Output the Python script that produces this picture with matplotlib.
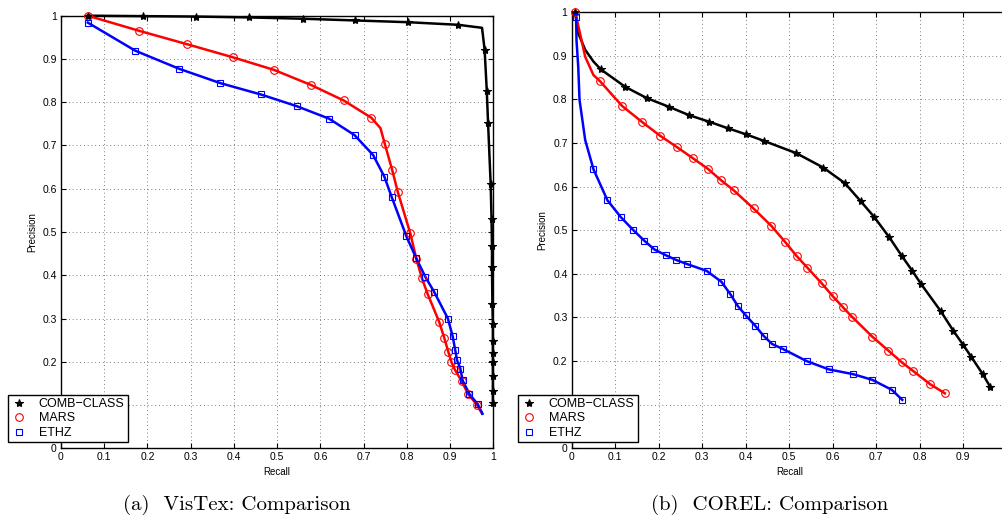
import matplotlib
matplotlib.use('Agg')
import matplotlib.pyplot as plt
from matplotlib.ticker import FormatStrFormatter

# ---- VisTex (left) ----
vis_comb_line_x = [0.062, 0.189, 0.312, 0.436, 0.559, 0.681, 0.802, 0.918, 0.974, 0.980, 0.985,
                   0.988, 0.994, 0.996, 0.997, 0.997, 0.998, 0.999, 0.999, 0.999, 0.999, 0.999, 0.999, 0.999]
vis_comb_line_y = [1.0, 0.999, 0.998, 0.996, 0.993, 0.989, 0.985, 0.979, 0.972, 0.921, 0.826,
                   0.751, 0.610, 0.530, 0.467, 0.419, 0.333, 0.287, 0.248, 0.220, 0.199, 0.167, 0.133, 0.105]
vis_comb_mk_x = [0.062, 0.189, 0.312, 0.436, 0.559, 0.681, 0.802, 0.918, 0.980, 0.985,
                 0.988, 0.994, 0.996, 0.997, 0.997, 0.998, 0.999, 0.999, 0.999, 0.999, 0.999, 0.999, 0.999]
vis_comb_mk_y = [1.0, 0.999, 0.998, 0.996, 0.993, 0.989, 0.985, 0.979, 0.921, 0.826,
                 0.751, 0.610, 0.530, 0.467, 0.419, 0.333, 0.287, 0.248, 0.220, 0.199, 0.167, 0.133, 0.105]

vis_mars_x = [0.062, 0.181, 0.292, 0.397, 0.492, 0.578, 0.654, 0.718, 0.739, 0.749, 0.766, 0.779,
              0.808, 0.822, 0.835, 0.848, 0.875, 0.887, 0.896, 0.903, 0.911, 0.927, 0.942, 0.962, 0.974]
vis_mars_y = [1.0, 0.965, 0.934, 0.904, 0.875, 0.840, 0.804, 0.764, 0.740, 0.704, 0.644, 0.593,
              0.497, 0.438, 0.393, 0.357, 0.292, 0.254, 0.223, 0.200, 0.182, 0.155, 0.125, 0.101, 0.080]
vis_mars_mk = [0, 1, 2, 3, 4, 5, 6, 7, 9, 10, 11, 12, 13, 14, 15, 16, 17, 18, 19, 20, 21, 22, 23]

vis_ethz_x = [0.062, 0.172, 0.274, 0.369, 0.462, 0.545, 0.620, 0.679, 0.722, 0.748, 0.765,
              0.799, 0.822, 0.843, 0.863, 0.895, 0.906, 0.912, 0.916, 0.924, 0.929, 0.945, 0.964, 0.975]
vis_ethz_y = [0.984, 0.919, 0.877, 0.844, 0.818, 0.791, 0.762, 0.724, 0.678, 0.628, 0.581,
              0.490, 0.439, 0.396, 0.362, 0.300, 0.259, 0.227, 0.204, 0.184, 0.157, 0.125, 0.102, 0.080]
vis_ethz_mk = list(range(23))

# ---- COREL (right) ----
cor_comb_x = [0.008, 0.015, 0.031, 0.050, 0.067, 0.123, 0.173, 0.224, 0.270, 0.316, 0.359, 0.401,
              0.442, 0.516, 0.578, 0.628, 0.664, 0.695, 0.730, 0.759, 0.783, 0.803, 0.848, 0.877,
              0.900, 0.919, 0.945, 0.962]
cor_comb_y = [1.0, 0.952, 0.914, 0.887, 0.869, 0.829, 0.803, 0.783, 0.764, 0.749, 0.734, 0.720,
              0.705, 0.677, 0.644, 0.608, 0.567, 0.531, 0.484, 0.441, 0.407, 0.377, 0.315, 0.270,
              0.237, 0.209, 0.170, 0.141]
cor_comb_mk = [0] + list(range(4, 28))

cor_mars_x = [0.008, 0.019, 0.031, 0.050, 0.065, 0.116, 0.161, 0.203, 0.243, 0.279, 0.313, 0.343,
              0.372, 0.418, 0.459, 0.490, 0.517, 0.542, 0.575, 0.600, 0.624, 0.644, 0.691, 0.728,
              0.759, 0.784, 0.824, 0.858]
cor_mars_y = [1.0, 0.952, 0.898, 0.856, 0.842, 0.785, 0.749, 0.717, 0.690, 0.665, 0.641, 0.615,
              0.592, 0.550, 0.510, 0.474, 0.441, 0.414, 0.378, 0.349, 0.323, 0.302, 0.256, 0.224,
              0.197, 0.178, 0.147, 0.126]
cor_mars_mk = [0] + list(range(4, 28))

cor_ethz_x = [0.010, 0.011, 0.015, 0.018, 0.031, 0.050, 0.082, 0.113, 0.142, 0.167, 0.190, 0.216,
              0.240, 0.264, 0.310, 0.344, 0.365, 0.382, 0.400, 0.422, 0.441, 0.461, 0.485, 0.540,
              0.591, 0.647, 0.691, 0.736, 0.760]
cor_ethz_y = [0.990, 0.936, 0.875, 0.799, 0.707, 0.640, 0.569, 0.530, 0.500, 0.476, 0.456, 0.443,
              0.432, 0.423, 0.407, 0.382, 0.353, 0.326, 0.305, 0.281, 0.258, 0.239, 0.228, 0.200,
              0.181, 0.170, 0.157, 0.134, 0.111]
cor_ethz_mk = [0] + list(range(5, 29))

labels = ['COMB\u2212CLASS', 'MARS', 'ETHZ']
ticks = [i / 10 for i in range(11)]
tick_labels = ['0', '0.1', '0.2', '0.3', '0.4', '0.5', '0.6', '0.7', '0.8', '0.9', '1']

fig = plt.figure(figsize=(10.03, 5.25), dpi=100)
ax1 = fig.add_axes([0.0608, 0.1461, 0.4310, 0.8240])
ax2 = fig.add_axes([0.5700, 0.1461, 0.4337, 0.8305])

sans = ['Liberation Sans', 'DejaVu Sans']


def draw(ax, curves, leg_x, xlabels):
    hs = []
    for lx, ly, mx, my, col, mk, ms in curves:
        ax.plot(lx, ly, '-', color=col, lw=1.8, clip_on=False, zorder=3)
        h, = ax.plot(mx, my, ls='none', marker=mk, ms=ms, mfc='none' if mk != '*' else col,
                     mec=col, mew=0.8, clip_on=False, zorder=4)
        hs.append(h)
    ax.set_xlim(0, 1)
    ax.set_ylim(0, 1)
    ax.set_xticks(ticks, xlabels)
    ax.set_yticks(ticks)
    ax.yaxis.set_major_formatter(FormatStrFormatter('%g'))
    ax.grid(True, ls=(0, (1, 3.5)), color='#555555', lw=0.6)
    ax.tick_params(direction='in', top=True, right=True, length=3.5, width=0.8,
                   labelsize=7.5, pad=3)
    for lab in ax.get_xticklabels() + ax.get_yticklabels():
        lab.set_family(sans)
    for s in ax.spines.values():
        s.set_linewidth(1.0)
    ax.set_xlabel('Recall', fontsize=7, family=sans, labelpad=3)
    ax.set_ylabel('Precision', fontsize=7, family=sans, labelpad=4)
    leg = ax.legend(hs, labels, loc='lower left', bbox_to_anchor=(leg_x, 83 / 525),
                    bbox_transform=fig.transFigure, borderaxespad=0, fancybox=False,
                    edgecolor='black', framealpha=1, prop={'family': sans, 'size': 9},
                    handlelength=1.2, handletextpad=1.0, labelspacing=0.2, borderpad=0.25)
    leg.get_frame().set_linewidth(1.0)
    leg.set_zorder(10)


def pick(xs, ys, idx):
    return [xs[i] for i in idx], [ys[i] for i in idx]


m1 = pick(vis_mars_x, vis_mars_y, vis_mars_mk)
e1 = pick(vis_ethz_x, vis_ethz_y, vis_ethz_mk)
draw(ax1, [
    (vis_comb_line_x, vis_comb_line_y, vis_comb_mk_x, vis_comb_mk_y, 'black', '*', 6),
    (vis_mars_x, vis_mars_y, m1[0], m1[1], 'red', 'o', 5.5),
    (vis_ethz_x, vis_ethz_y, e1[0], e1[1], 'blue', 's', 4.5),
], 8 / 1003, tick_labels)

c2 = pick(cor_comb_x, cor_comb_y, cor_comb_mk)
m2 = pick(cor_mars_x, cor_mars_y, cor_mars_mk)
e2 = pick(cor_ethz_x, cor_ethz_y, cor_ethz_mk)
draw(ax2, [
    (cor_comb_x, cor_comb_y, c2[0], c2[1], 'black', '*', 6),
    (cor_mars_x, cor_mars_y, m2[0], m2[1], 'red', 'o', 5.5),
    (cor_ethz_x, cor_ethz_y, e2[0], e2[1], 'blue', 's', 4.5),
], 518 / 1003, tick_labels[:-1] + [''])

fig.text(237 / 1003, 20 / 525, '(a)  VisTex: Comparison', ha='center', va='center',
         family='cmr10', fontsize=15)
fig.text(770 / 1003, 20 / 525, '(b)  COREL: Comparison', ha='center', va='center',
         family='cmr10', fontsize=15)

fig.savefig('out.png', dpi=100)
plt.close(fig)
